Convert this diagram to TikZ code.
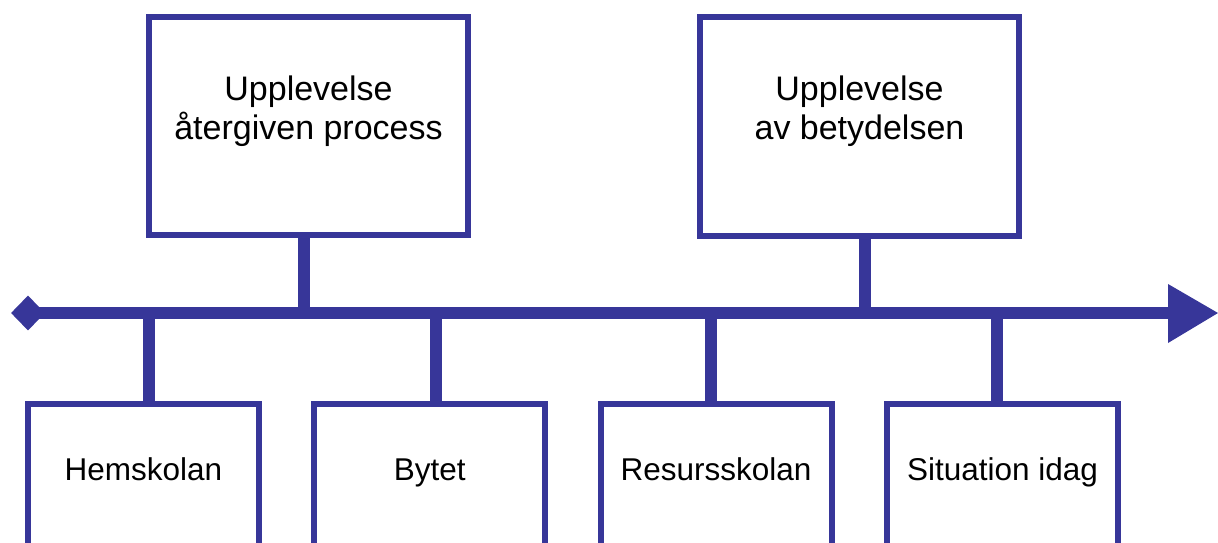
\documentclass[tikz,border=0pt]{standalone}
\usepackage{fontspec}
\setmainfont{Liberation Sans}
\usetikzlibrary{shapes.geometric}
\definecolor{tlblue}{RGB}{55,54,153}
\tikzset{
  topbox/.style={draw=tlblue, line width=6pt, fill=white, rectangle, inner sep=0pt, outer sep=0pt},
  botbox/.style={draw=tlblue, line width=6pt, fill=white, rectangle, inner sep=0pt, outer sep=0pt, minimum width=231pt, minimum height=143pt},
  toptext/.style={align=center, inner sep=0pt, anchor=north, font=\fontsize{34}{38.5}\selectfont, text=black},
  bottext/.style={inner sep=0pt, anchor=base, font=\fontsize{31.5}{36}\selectfont, text=black},
  conn/.style={draw=tlblue, line width=12pt},
  timeline/.style={draw=tlblue, line width=12pt},
  startmark/.style={diamond, fill=tlblue, minimum width=34pt, minimum height=35pt, inner sep=0pt},
}
\begin{document}
\begin{tikzpicture}[x=1pt,y=-1pt]
\useasboundingbox (0,0) rectangle (1218,543);
% top boxes
\node[topbox, minimum width=319pt, minimum height=218pt] (b1) at (308.5,126) {};
\node[topbox, minimum width=319pt, minimum height=219pt] (b2) at (859.5,126.5) {};
\node[toptext] (t1) at (308.5,75.7) {Upplevelse\\återgiven process};
\node[toptext] (t2) at (859.5,75.7) {Upplevelse\\av betydelsen};
% bottom boxes
\node[botbox] (h) at (143.5,475.5) {};
\node[botbox] (by) at (429.75,475.5) {};
\node[botbox] (r) at (716,475.5) {};
\node[botbox] (s) at (1002.5,475.5) {};
\node[bottext] (th) at (143.5,480) {Hemskolan};
\node[bottext] (tb) at (429.75,480) {Bytet};
\node[bottext] (tr) at (716,480) {Resursskolan};
\node[bottext] (ts) at (1002.5,480) {Situation idag};
% timeline
\node[startmark] (start) at (28,313) {};
\coordinate (tipbase) at (1170,313);
\coordinate (tip) at (1218,313);
\draw[timeline] (start.center) -- (tipbase);
\fill[tlblue] (tip) -- (1168,284) -- (1168,343) -- cycle;
% junctions
\coordinate (j1) at (304,313);
\coordinate (j2) at (865,313);
\coordinate (j3) at (149,313);
\coordinate (j4) at (436,313);
\coordinate (j5) at (711,313);
\coordinate (j6) at (997,313);
\draw[conn] (j1) -- (j1 |- b1.south);
\draw[conn] (j2) -- (j2 |- b2.south);
\draw[conn] (j3) -- (j3 |- h.north);
\draw[conn] (j4) -- (j4 |- by.north);
\draw[conn] (j5) -- (j5 |- r.north);
\draw[conn] (j6) -- (j6 |- s.north);
\end{tikzpicture}
\end{document}
